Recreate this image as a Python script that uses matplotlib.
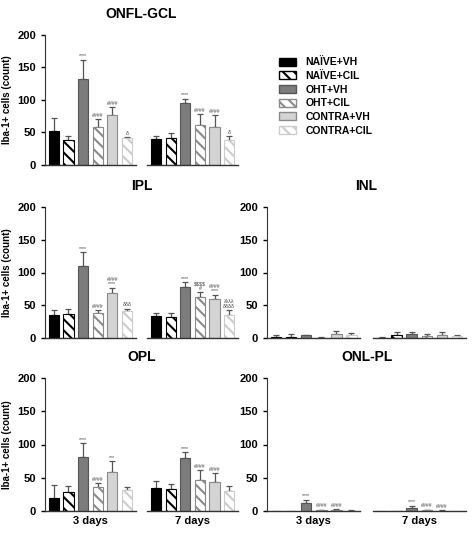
import matplotlib
matplotlib.use("Agg")
import matplotlib.pyplot as plt
from matplotlib.patches import Patch
plt.rcParams['font.family'] = ['Liberation Sans', 'DejaVu Sans']
plt.rcParams['hatch.linewidth'] = 1.5

groups = ["NAÏVE+VH", "NAÏVE+CIL", "OHT+VH", "OHT+CIL", "CONTRA+VH", "CONTRA+CIL"]
days = ["3 days", "7 days"]

onfl_mean = [[52, 38, 133, 58, 77, 42], [40, 41, 96, 62, 58, 38]]
onfl_err = [[20, 6, 29, 12, 12, 1], [4, 8, 6, 16, 19, 6]]
onfl_sig = [["", "", "****", "####", "####", "δ"], ["", "", "****", "####", "####", "δ"]]

ipl_mean = [[35, 36, 110, 38, 69, 41], [34, 32, 78, 63, 59, 35]]
ipl_err = [[8, 8, 21, 4, 8, 4], [4, 6, 7, 7, 7, 8]]
ipl_sig = [["", "", "****", "####", "####\n****", "δδδ"], ["", "", "****", "$$$$\n#", "####\n****", "λλλλ\nδδδδ"]]

inl_mean = [[1, 2, 4, 0.5, 6, 4], [0.5, 4, 6, 3, 4, 3]]
inl_err = [[3, 4, 1, 1, 5, 4], [1, 5, 3, 3, 5, 2]]
inl_sig = [["", "", "", "", "", ""], ["", "", "", "", "", ""]]

opl_mean = [[20, 28, 81, 36, 58, 32], [35, 33, 80, 47, 43, 30]]
opl_err = [[19, 10, 21, 6, 17, 4], [10, 8, 8, 14, 14, 8]]
opl_sig = [["", "", "****", "####", "***", ""], ["", "", "****", "####", "####", ""]]

onl_mean = [[0, 0, 12, 1, 1, 0.5], [0, 0, 5, 1, 0.5, 0]]
onl_err = [[0, 0, 5, 1, 2, 0.5], [0, 0, 3, 1, 1, 0]]
onl_sig = [["", "", "****", "####", "####", ""], ["", "", "****", "####", "####", ""]]

styles = [
    dict(facecolor="black", edgecolor="black", hatch=None),
    dict(facecolor="white", edgecolor="black", hatch="\\\\\\"),
    dict(facecolor="#7c7c7c", edgecolor="#555555", hatch=None),
    dict(facecolor="white", edgecolor="#8a8a8a", hatch="\\\\\\"),
    dict(facecolor="#d4d4d4", edgecolor="#8a8a8a", hatch=None),
    dict(facecolor="white", edgecolor="#cccccc", hatch="\\\\\\"),
]

fig = plt.figure(figsize=(4.74, 5.35), dpi=100)
W, H = 474, 535
def ax_at(l, t, r, b):
    return fig.add_axes([l / W, 1 - b / H, (r - l) / W, (b - t) / H])

panels = [
    ("ONFL-GCL", onfl_mean, onfl_err, onfl_sig, (45, 35, 238, 165), True, False),
    ("IPL", ipl_mean, ipl_err, ipl_sig, (45, 207, 238, 338), True, False),
    ("INL", inl_mean, inl_err, inl_sig, (267, 207, 466, 338), False, False),
    ("OPL", opl_mean, opl_err, opl_sig, (45, 378, 238, 511), True, True),
    ("ONL-PL", onl_mean, onl_err, onl_sig, (267, 378, 466, 511), False, True),
]

for title, means, errs, sigs, box, ylab, xlab in panels:
    ax = ax_at(*box)
    for g in range(2):
        base = g * 7
        for i in range(6):
            x = base + i
            st = styles[i]
            ax.bar(x, means[g][i], width=0.7, facecolor=st["facecolor"],
                   edgecolor=st["edgecolor"], hatch=st["hatch"], linewidth=0.8, zorder=2)
            if errs[g][i] > 0:
                ax.errorbar(x, means[g][i], yerr=[[0], [errs[g][i]]], fmt="none",
                            ecolor="#555555", elinewidth=0.9, capsize=2.5, capthick=0.9, zorder=1)
            if sigs[g][i]:
                ax.text(x, means[g][i] + errs[g][i] + 2, sigs[g][i], ha="center", va="bottom",
                        fontsize=3.8, color="#444444", linespacing=0.9, parse_math=False)
        ax.plot([base - 0.6, base + 5.6], [0, 0], color="#333333", lw=1.0, clip_on=False)
    ax.set_xlim(-0.6, 12.6)
    ax.set_ylim(0, 200)
    ax.set_yticks([0, 50, 100, 150, 200])
    ax.tick_params(axis="y", labelsize=8, width=1, length=3)
    for lab in ax.get_yticklabels():
        lab.set_fontweight("bold")
    for s in ["top", "right", "bottom"]:
        ax.spines[s].set_visible(False)
    ax.spines["left"].set_color("#333333")
    if xlab:
        ax.set_xticks([2.5, 9.5])
        ax.set_xticklabels(days, fontsize=8, fontweight="bold")
        ax.tick_params(axis="x", length=0)
    else:
        ax.set_xticks([])
    if ylab:
        ax.set_ylabel("Iba-1+ cells (count)", fontsize=7, fontweight="bold")
    ax.set_title(title, fontsize=10, fontweight="bold", pad=12)

handles = [Patch(facecolor=s["facecolor"], edgecolor=s["edgecolor"], hatch=s["hatch"]) for s in styles]
fig.legend(handles, groups, loc="upper left", bbox_to_anchor=(270 / W, 1 - 48 / H), frameon=False,
           prop=dict(size=7.5, weight="bold"), handlelength=1.6, handleheight=0.8,
           labelspacing=0.35, handletextpad=0.9)

fig.savefig("out.png", dpi=100)
